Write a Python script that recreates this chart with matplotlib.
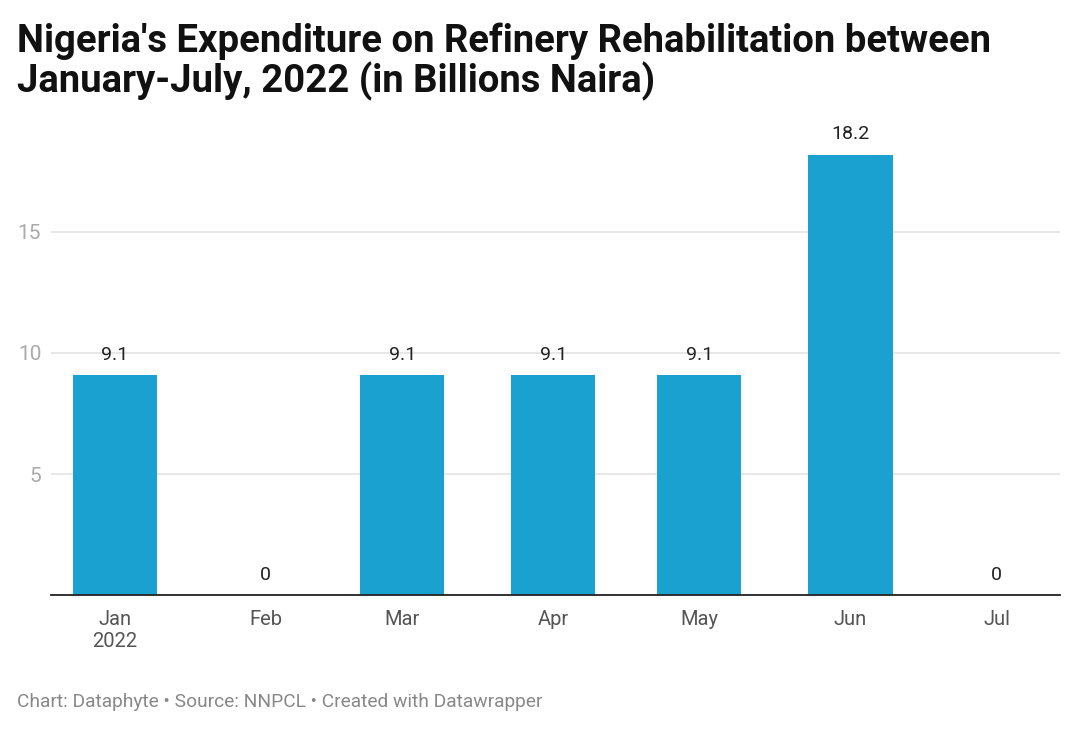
import matplotlib
matplotlib.use("Agg")
import matplotlib.pyplot as plt
import numpy as np

plt.rcParams['font.family'] = ['Roboto', 'DejaVu Sans']

months = ['Jan\n2022', 'Feb', 'Mar', 'Apr', 'May', 'Jun', 'Jul']
dates = ['2022-01-01', '2022-02-01', '2022-03-01', '2022-04-01',
         '2022-05-01', '2022-06-01', '2022-07-01']
values = [9.1, 0, 9.1, 9.1, 9.1, 18.2, 0]
labels = ['9.1', '0', '9.1', '9.1', '9.1', '18.2', '0']

# day offset from Jan 1 (time axis like datawrapper)
days = (np.array(dates, dtype='datetime64[D]') - np.datetime64('2022-01-01')).astype(int)

W, H = 1080, 731
fig = plt.figure(figsize=(W / 100, H / 100), dpi=100)
ax = fig.add_axes([51 / W, (H - 595) / H, (1060 - 51) / W, (595 - 111) / H])

bar_color = '#1aa1cf'
ax.bar(days, values, width=17.25, color=bar_color, zorder=2)

for d, v, lab in zip(days, values, labels):
    ax.annotate(lab, (d, v), xytext=(0, 8), textcoords='offset points',
                ha='center', va='bottom', fontsize=14, color='#222222')

ax.set_xlim(-13.1, 194.0)
ax.set_ylim(0, 20)

ax.set_yticks([5, 10, 15])
ax.set_yticklabels(['5', '10', '15'])
ax.yaxis.grid(True, color='#e3e3e3', linewidth=1.2, zorder=0)
ax.set_axisbelow(True)
ax.tick_params(axis='y', length=0, pad=7, labelsize=15, labelcolor='#aaaaaa')

ax.set_xticks(days)
ax.set_xticklabels(months)
ax.tick_params(axis='x', length=0, pad=11, labelsize=14.5, labelcolor='#555555')

for s in ['top', 'right', 'left']:
    ax.spines[s].set_visible(False)
ax.spines['bottom'].set_color('#222222')
ax.spines['bottom'].set_linewidth(1.3)
ax.spines['bottom'].set_zorder(3)

fig.text(17 / W, 1 - 62 / H, "Nigeria's Expenditure on Refinery Rehabilitation between\nJanuary-July, 2022 (in Billions Naira)",
         ha='left', va='center', fontsize=27.5, fontweight='bold', color='#111111',
         linespacing=1.05)

fig.text(17 / W, 1 - 702 / H, 'Chart: Dataphyte \u2022 Source: NNPCL \u2022 Created with Datawrapper',
         ha='left', va='center', fontsize=13.8, color='#888888')

fig.savefig('out.png', dpi=100, facecolor='white')
